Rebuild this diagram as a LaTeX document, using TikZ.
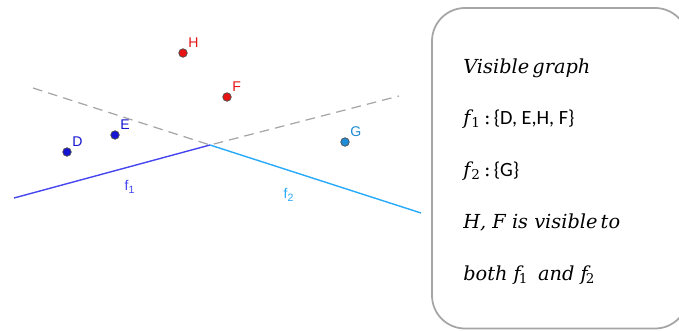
\documentclass[tikz,border=0pt]{standalone}
\usepackage{fontspec}
\newfontfamily\labelfont{Liberation Sans}
\newfontfamily\setfont{Carlito}
\newfontfamily\boxfont{DejaVu Serif}
\usepackage{tikz}
\definecolor{ptred}{RGB}{230,20,20}
\definecolor{ptblue}{RGB}{20,20,210}
\definecolor{ptcyan}{RGB}{30,140,215}
\definecolor{fone}{RGB}{70,70,240}
\definecolor{ftwo}{RGB}{40,170,250}
\definecolor{boxgray}{RGB}{165,165,165}
\newcommand{\fsub}[1]{\textit{f}\kern-0.1em\textsubscript{\upshape #1}}

\begin{document}
\begin{tikzpicture}[
  dot/.style={circle, draw=black!70, fill=#1, inner sep=0pt, minimum size=0.17cm, line width=0.4pt},
  ptlabel/.style={font=\labelfont\fontsize{8}{9}\selectfont, text=#1, inner sep=1pt},
  boxtext/.style={anchor=base west, inner sep=0pt, font=\boxfont\fontsize{11}{13}\selectfont}
]
\useasboundingbox (0,0) rectangle (13.58,6.6);

% the two faces and the hidden part
\coordinate (O) at (4.2,3.7);
\coordinate (dl) at (0.66,4.84);
\coordinate (dr) at (7.98,4.68);
\coordinate (a) at (0.28,2.64);
\coordinate (b) at (8.42,2.34);
\draw[gray!70, line width=0.7pt, dash pattern=on 5.5pt off 3.5pt] (dl) -- (O) -- (dr);
\draw[fone, line width=0.8pt] (a) -- (O);
\draw[ftwo, line width=0.8pt] (O) -- (b);
\node[ptlabel=fone] (f1) at (2.6,2.86) {f\textsubscript{1}};
\node[ptlabel=ftwo] (f2) at (5.78,2.7) {f\textsubscript{2}};

% points
\node[dot=ptblue, label={[ptlabel=ptblue]45:D}] (D) at (1.34,3.56) {};
\node[dot=ptblue, label={[ptlabel=ptblue]45:E}] (E) at (2.3,3.9) {};
\node[dot=ptred, label={[ptlabel=ptred]45:H}] (H) at (3.66,5.54) {};
\node[dot=ptred, label={[ptlabel=ptred]45:F}] (F) at (4.54,4.66) {};
\node[dot=ptcyan, label={[ptlabel=ptcyan]45:G}] (G) at (6.9,3.76) {};

% legend box
\draw[boxgray, line width=1pt, rounded corners=0.66cm] (8.64,6.44) rectangle (13.76,0.03);
\node[boxtext] (v1) at (9.26,5.14) {\itshape Visible\,graph};
\node[boxtext] (v2) at (9.26,4.12) {\fsub{1}\,:\,{\setfont\fontsize{11.5}{13}\selectfont\{D, E,H, F\}}};
\node[boxtext] (v3) at (9.26,3.08) {\fsub{2}\,:\,{\setfont\fontsize{11.5}{13}\selectfont\{G\}}};
\node[boxtext] (v4) at (9.26,2.04) {\itshape H, F is visible\,to};
\node[boxtext] (v5) at (9.26,1.0) {\itshape both \fsub{1}\enspace and \fsub{2}};
\end{tikzpicture}
\end{document}
